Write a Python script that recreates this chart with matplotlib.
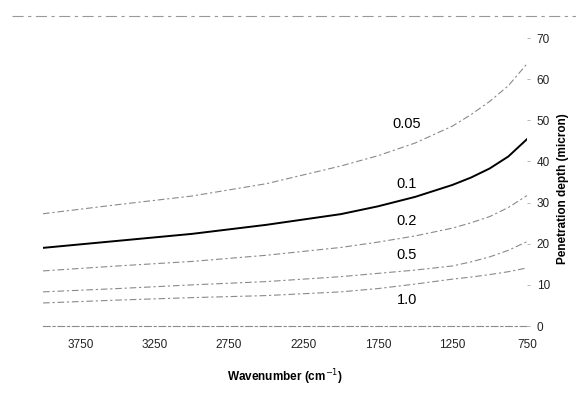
import matplotlib
matplotlib.use("Agg")
import matplotlib.pyplot as plt
from matplotlib.lines import Line2D

# wavenumber grid (cm-1) and penetration depth (micron) per curve
wavenumber = [4000, 3500, 3000, 2500, 2000, 1750, 1500, 1250, 1125, 1000, 875, 750]
depth_005 = [27.3, 29.5, 31.6, 34.6, 38.9, 41.4, 44.5, 48.6, 51.4, 54.6, 58.4, 63.7]
depth_01 = [19.0, 20.7, 22.4, 24.6, 27.2, 29.1, 31.4, 34.3, 36.1, 38.3, 41.2, 45.4]
depth_02 = [13.4, 14.6, 15.7, 17.2, 19.1, 20.4, 21.9, 23.8, 25.1, 26.6, 28.8, 31.7]
depth_05 = [8.3, 9.1, 10.0, 10.8, 12.0, 12.8, 13.6, 14.6, 15.6, 16.8, 18.4, 20.5]
depth_10 = [5.6, 6.3, 6.9, 7.4, 8.3, 9.1, 10.2, 11.4, 11.9, 12.5, 13.2, 14.1]

labels = ["0.05", "0.1", "0.2", "0.5", "1.0"]
label_y = [49.0, 34.6, 25.6, 17.3, 6.3]
label_x = 1555

xticks = [3750, 3250, 2750, 2250, 1750, 1250, 750]
yticks = [0, 10, 20, 30, 40, 50, 60, 70]

plt.rcParams['font.family'] = ['Liberation Sans', 'DejaVu Sans']

fig = plt.figure(figsize=(5.76, 4.01), dpi=100)
ax = fig.add_axes([0.0747, 0.187, 0.840, 0.718])

gray = '#8a8a8a'
dash = (0, (6, 2.5, 2, 2.5))
ax.plot(wavenumber, depth_005, color=gray, lw=0.8, ls=dash)
ax.plot(wavenumber, depth_01, color='black', lw=1.4)
ax.plot(wavenumber, depth_02, color=gray, lw=0.8, ls=dash)
ax.plot(wavenumber, depth_05, color=gray, lw=0.8, ls=dash)
ax.plot(wavenumber, depth_10, color=gray, lw=0.8, ls=dash)

for lab, yy in zip(labels, label_y):
    ax.text(label_x, yy, lab, ha='center', va='center', fontsize=10.5)

ax.set_xlim(4000, 750)
ax.set_ylim(0, 70)
ax.set_xticks(xticks)
ax.set_yticks(yticks)
ax.yaxis.tick_right()
ax.tick_params(axis='x', length=0, labelsize=8.5, pad=9, colors='#222222')
ax.tick_params(axis='y', length=2, width=0.6, color='#aaaaaa', labelsize=8.5,
               pad=5, colors='#222222')
ax.tick_params(axis='y', colors='#aaaaaa', labelcolor='#222222')

for s in ['top', 'left', 'right']:
    ax.spines[s].set_visible(False)
ax.spines['bottom'].set_color(gray)
ax.spines['bottom'].set_linewidth(0.8)
ax.spines['bottom'].set_linestyle(dash)

ax.set_xlabel('Wavenumber (cm$^{-1}$)', fontsize=8.5, fontweight='bold', labelpad=12)
fig.text(0.977, 0.53, 'Penetration depth (micron)', rotation=90, ha='center',
         va='center', fontsize=8.5, fontweight='bold')

# scanned frame line at the top
fig.add_artist(Line2D([0.02, 1.0], [0.96, 0.96], transform=fig.transFigure,
                      color='#999999', lw=0.8, ls=(0, (10, 4, 3, 4))))

fig.savefig('out.png', dpi=100)
